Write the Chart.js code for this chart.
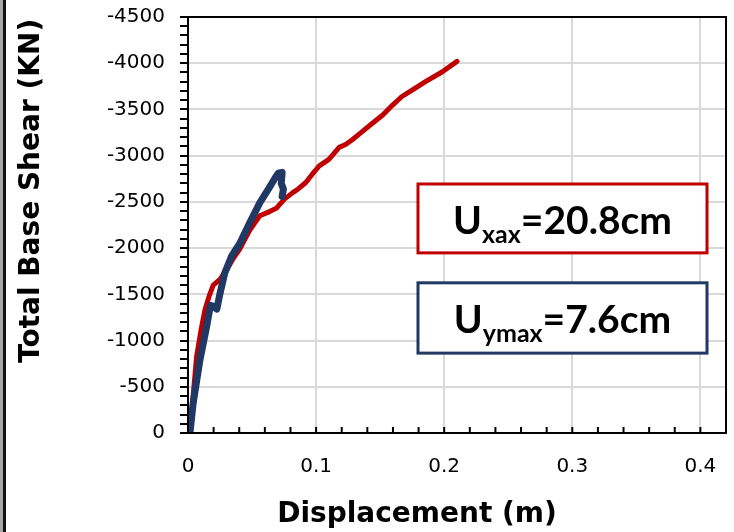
<!DOCTYPE html>
<html><head><meta charset="utf-8">
<script src="https://cdn.jsdelivr.net/npm/chart.js@4/dist/chart.umd.min.js"></script>
<style>html,body{margin:0;padding:0;background:#fff;overflow:hidden}canvas{display:block}</style>
</head><body>
<canvas id="c" width="734" height="532"></canvas>
<script>
// X-direction pushover (red)
const xDirDisp  = [0.0016, 0.004, 0.0067, 0.010, 0.0132, 0.0165, 0.0197, 0.0249, 0.030, 0.035, 0.0404, 0.048, 0.056, 0.0637, 0.0689, 0.0753, 0.0818, 0.086, 0.092, 0.097, 0.1025, 0.110, 0.118, 0.123, 0.128, 0.136, 0.144, 0.152, 0.1595, 0.167, 0.175, 0.1854, 0.1983, 0.210];
const xDirShear = [0, -400, -825, -1100, -1330, -1480, -1600, -1660, -1760, -1880, -1990, -2190, -2350, -2395, -2430, -2530, -2600, -2640, -2710, -2800, -2890, -2960, -3090, -3120, -3170, -3260, -3350, -3440, -3545, -3640, -3710, -3800, -3905, -4020];
// Y-direction pushover (blue)
const yDirDisp  = [0.0015, 0.004, 0.0093, 0.0145, 0.0175, 0.020, 0.0225, 0.025, 0.0287, 0.0339, 0.0404, 0.048, 0.056, 0.0637, 0.0689, 0.0705, 0.0735, 0.0728, 0.0745, 0.0735];
const yDirShear = [0, -320, -790, -1150, -1380, -1370, -1340, -1510, -1730, -1910, -2050, -2270, -2490, -2660, -2780, -2810, -2820, -2700, -2640, -2560];

const axisTitles = ['Displacement (m)', 'Total Base Shear (KN)'];
const boxMain = ['U', 'U'];
const boxSub  = ['xax', 'ymax'];
const boxRest = ['=20.8cm', '=7.6cm'];
const boxColors = ['#C00000', '#1F3864'];

const decor = {
  id: 'decor',
  beforeDraw(chart) {
    const ctx = chart.ctx;
    ctx.save();
    ctx.fillStyle = '#fff'; ctx.fillRect(0, 0, chart.width, chart.height);
    ctx.fillStyle = '#a6a6a6'; ctx.fillRect(0, 0, 3, chart.height);
    ctx.fillStyle = '#111'; ctx.fillRect(3, 0, 3, chart.height);
    ctx.restore();
  },
  afterDraw(chart) {
    const ctx = chart.ctx, a = chart.chartArea, xs = chart.scales.x;
    const w = a.right - a.left, h = a.bottom - a.top;
    ctx.save();
    ctx.strokeStyle = '#000'; ctx.lineWidth = 2;
    ctx.strokeRect(a.left, a.top, w, h);
    xs.ticks.forEach(t => {
      const px = xs.getPixelForValue(t.value);
      ctx.beginPath(); ctx.moveTo(px, a.bottom); ctx.lineTo(px, a.bottom - 6); ctx.stroke();
    });
    ctx.fillStyle = '#000';
    ctx.font = 'bold 28px "DejaVu Sans"';
    ctx.textAlign = 'center'; ctx.textBaseline = 'middle';
    ctx.fillText(axisTitles[0], a.left + 0.4257 * w, 515);
    ctx.save();
    ctx.translate(32, a.top + 0.418 * h);
    ctx.rotate(-Math.PI / 2);
    ctx.fillText(axisTitles[1], 0, 0);
    ctx.restore();
    const boxes = [[0.4275, 0.4014, 0.9647, 0.567], [0.4275, 0.639, 0.9647, 0.808]];
    boxes.forEach((b, i) => {
      const L = a.left + b[0] * w, T = a.top + b[1] * h, R = a.left + b[2] * w, B = a.top + b[3] * h;
      ctx.fillStyle = '#fff'; ctx.fillRect(L, T, R - L, B - T);
      ctx.strokeStyle = boxColors[i]; ctx.lineWidth = 3; ctx.strokeRect(L, T, R - L, B - T);
      ctx.fillStyle = '#000'; ctx.textAlign = 'left'; ctx.textBaseline = 'alphabetic';
      ctx.font = 'bold 39px Lato';
      const wm = ctx.measureText(boxMain[i]).width, wr = ctx.measureText(boxRest[i]).width;
      ctx.font = 'bold 25px Lato';
      const ws = ctx.measureText(boxSub[i]).width;
      let x0 = (L + R) / 2 - (wm + ws + wr) / 2;
      const base = T + 50;
      ctx.font = 'bold 39px Lato'; ctx.fillText(boxMain[i], x0, base); x0 += wm;
      ctx.font = 'bold 25px Lato'; ctx.fillText(boxSub[i], x0, base + 9); x0 += ws;
      ctx.font = 'bold 39px Lato'; ctx.fillText(boxRest[i], x0, base);
    });
    ctx.restore();
  }
};

new Chart(document.getElementById('c'), {
  type: 'scatter',
  data: {
    datasets: [
      { label: 'Y', data: yDirDisp.map((d, i) => ({ x: d, y: yDirShear[i] })), showLine: true,
        borderColor: '#1F3864', backgroundColor: '#1F3864', borderWidth: 7, pointRadius: 0, tension: 0,
        borderJoinStyle: 'round', borderCapStyle: 'round', order: 1 },
      { label: 'X', data: xDirDisp.map((d, i) => ({ x: d, y: xDirShear[i] })), showLine: true,
        borderColor: '#C00000', backgroundColor: '#C00000', borderWidth: 5, pointRadius: 0, tension: 0,
        borderJoinStyle: 'round', borderCapStyle: 'round', order: 2 }
    ]
  },
  options: {
    responsive: false, animation: false, devicePixelRatio: 1,
    layout: { padding: { top: 17, right: 8, left: 0, bottom: 0 } },
    plugins: { legend: { display: false }, tooltip: { enabled: false } },
    scales: {
      x: {
        type: 'linear', min: 0, max: 0.42,
        ticks: { stepSize: 0.02, autoSkip: false, maxRotation: 0, padding: 22, color: '#000',
          font: { family: 'DejaVu Sans', size: 20 },
          callback: v => { const r = Math.round(v * 10); return Math.abs(v * 10 - r) < 1e-6 ? String(r / 10) : ''; } },
        grid: { color: c => { const v = c.tick ? c.tick.value : 0; const r = Math.round(v * 10);
            return (Math.abs(v * 10 - r) < 1e-6 && r !== 0) ? '#d9d9d9' : 'rgba(0,0,0,0)'; },
          lineWidth: 2, drawTicks: false },
        border: { color: '#000', width: 2 },
        afterFit: s => { s.height = 99; s.paddingLeft = 0; s.paddingRight = 0; }
      },
      y: {
        type: 'linear', reverse: true, min: -4500, max: 0,
        ticks: { stepSize: 100, autoSkip: false, padding: 15, color: '#000',
          font: { family: 'DejaVu Sans', size: 20 },
          callback: v => (Math.round(v) % 500 === 0 ? String(Math.round(v)) : '') },
        grid: { color: c => { const v = c.tick ? Math.round(c.tick.value) : 0;
            return (v % 500 === 0 && v !== 0 && v !== -4500) ? '#d9d9d9' : 'rgba(0,0,0,0)'; },
          lineWidth: 2, tickColor: '#000', tickLength: 8, tickWidth: 2 },
        border: { color: '#000', width: 2 },
        afterFit: s => { s.width = 188; s.paddingTop = 0; s.paddingBottom = 0; }
      }
    }
  },
  plugins: [decor]
});
</script>
</body></html>
